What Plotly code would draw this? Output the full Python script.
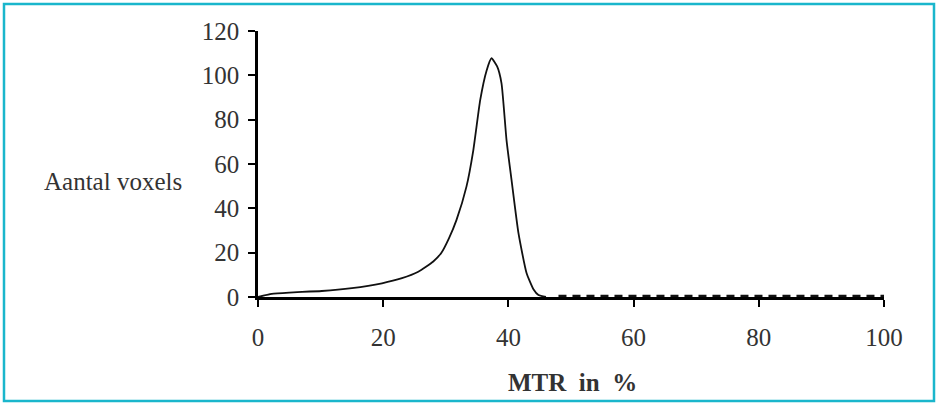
import plotly.graph_objects as go

# MTR histogram curve
mtr = [0, 2.2, 5, 10.2, 15, 19.8, 23, 25.6, 28, 29.3, 30.5, 31.7, 33.3, 34.4, 35.5, 36.5, 37.3, 38.2, 38.9, 39.7, 40.5, 41.6, 42.9, 44, 44.8, 46]
voxels = [0, 1.4, 2.0, 2.7, 4.0, 6.2, 8.5, 11.4, 16, 20, 26.5, 34.7, 49.8, 66.3, 88.9, 102, 107.7, 104, 96.4, 70.8, 52.8, 28.9, 10.8, 3.5, 0.9, 0]

# zero-count tail drawn as dashes
tail_x = [48, 100]
tail_y = [0, 0]

x_ticks = [0, 20, 40, 60, 80, 100]
y_ticks = [0, 20, 40, 60, 80, 100, 120]

fig = go.Figure()
fig.add_trace(go.Scatter(x=tail_x, y=tail_y, mode="lines",
                         line=dict(color="#111111", width=4.5, dash="8px,6px"),
                         hoverinfo="skip", cliponaxis=False))
fig.add_trace(go.Scatter(x=mtr, y=voxels, mode="lines",
                         line=dict(color="#111111", width=1.8, shape="spline", smoothing=0.5),
                         cliponaxis=False))

font = dict(family="Liberation Serif, Times New Roman, serif", size=25, color="#333333")

fig.update_layout(
    width=938, height=405,
    margin=dict(l=258, r=54, t=31, b=108),
    paper_bgcolor="white", plot_bgcolor="white",
    showlegend=False,
    font=font,
    xaxis=dict(range=[0, 100], tickvals=x_ticks, ticks="outside", ticklen=7, tickwidth=2,
               tickcolor="black", showline=True, linecolor="black", linewidth=2.5,
               showgrid=False, zeroline=False, ticklabelstandoff=9,
               tickfont=font),
    yaxis=dict(range=[0, 120], tickvals=y_ticks, ticks="outside", ticklen=7, tickwidth=2,
               tickcolor="black", showline=True, linecolor="black", linewidth=2.5,
               showgrid=False, zeroline=False, ticklabelstandoff=4,
               tickfont=font),
    annotations=[
        dict(text="Aantal voxels", xref="paper", yref="paper",
             x=(113 - 258) / 626, y=(297 - 181) / 266, showarrow=False,
             xanchor="center", yanchor="middle", font=font),
        dict(text="<b>MTR  in  %</b>", xref="paper", yref="paper",
             x=(572 - 258) / 626, y=(297 - 382) / 266, showarrow=False,
             xanchor="center", yanchor="middle", font=font),
    ],
    shapes=[
        dict(type="rect", xref="paper", yref="paper",
             x0=(4 - 258) / 626, x1=(934 - 258) / 626,
             y0=(297 - 401) / 266, y1=(297 - 4) / 266,
             line=dict(color="#1ab6cc", width=2.5), layer="below"),
    ],
)

fig.write_html("out.html")
